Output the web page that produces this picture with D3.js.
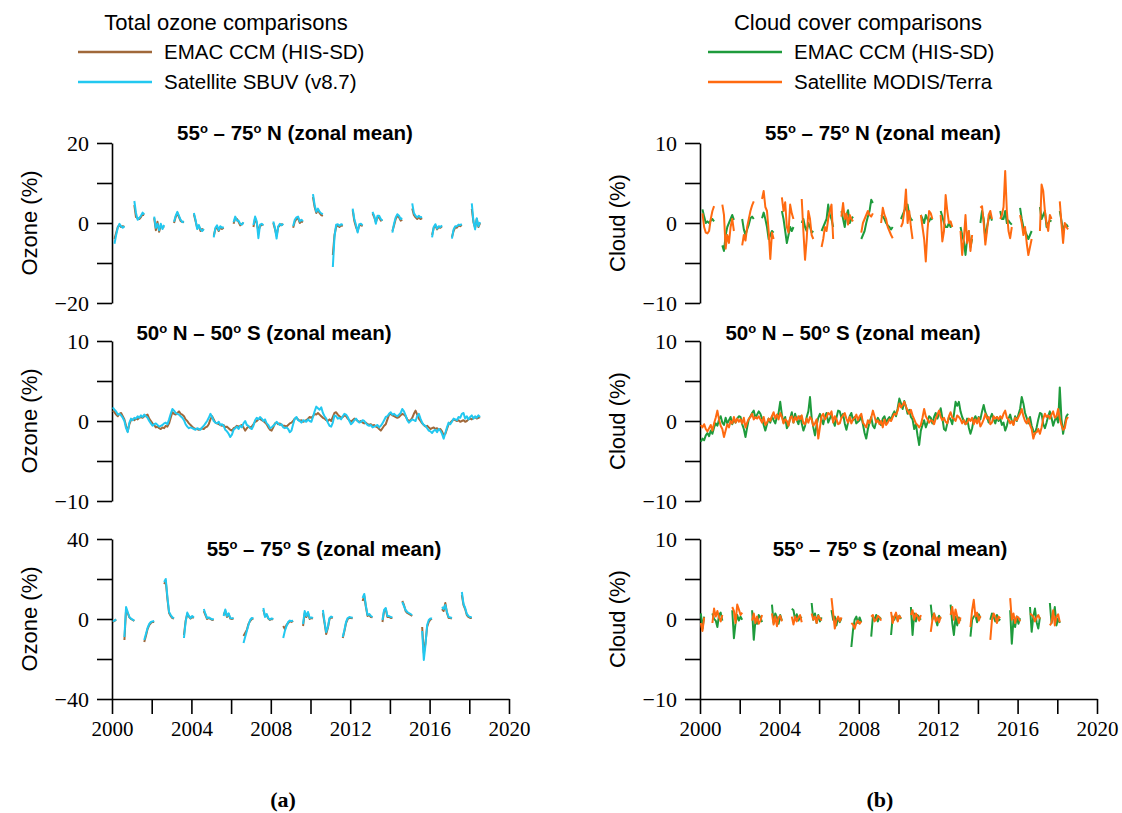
<!DOCTYPE html>
<html>
<head>
<meta charset="utf-8">
<script src="https://cdn.jsdelivr.net/npm/d3@7"></script>
<style>
  body { margin: 0; background: #fff; }
  svg text { fill: #000; }
</style>
</head>
<body>
<script>
// monthly values, Jan 2000 .. Jul 2018 (one row per year)
var ozTropEmac = [
  1.3,1.1,0.8,0.6,0.9,1.0,0.6,0.2,-0.6,-1.3,-0.4,0.1,
  0.2,0.1,0.3,0.2,0.4,0.5,0.4,0.6,0.7,0.8,0.3,0.0,
  -0.3,-0.5,-0.8,-0.7,-0.9,-1.0,-0.8,-0.9,-0.6,-0.7,-0.3,0.4,
  1.1,0.9,0.8,1.0,1.2,0.9,0.8,0.6,0.2,0.0,-0.3,-0.5,
  -0.7,-0.9,-1.0,-1.0,-1.1,-1.0,-0.9,-1.0,-0.8,-0.7,-0.4,0.2,
  0.6,0.2,-0.2,-0.3,-0.4,-0.5,-0.6,-0.5,-0.8,-0.7,-0.9,-1.1,
  -1.2,-0.9,-0.8,-0.6,-0.7,-0.6,-0.5,-0.8,-1.2,-0.9,-0.7,-0.8,
  -0.7,-0.4,-0.1,0.0,0.2,0.3,0.1,0.0,-0.2,-0.4,-0.8,-1.1,
  -1.2,-0.8,-0.3,-0.2,-0.4,-0.3,-0.5,-0.6,-0.6,-0.7,-0.5,-0.3,
  -0.2,0.0,0.3,0.4,0.2,0.0,0.1,-0.1,0.0,0.1,0.3,0.5,
  0.4,0.6,0.9,0.8,1.0,0.8,0.6,0.4,0.3,0.1,0.0,0.2,
  0.0,0.5,1.0,1.1,0.8,0.6,0.4,0.5,0.7,0.6,0.3,0.1,
  -0.1,0.1,0.3,0.2,0.0,-0.1,0.0,-0.2,-0.3,-0.2,-0.4,-0.5,
  -0.4,-0.6,-0.5,-0.7,-0.8,-1.0,-1.2,-0.9,-0.6,-0.4,0.2,0.8,
  0.9,0.7,0.6,0.5,0.4,0.5,0.7,0.9,0.8,0.6,0.2,0.0,
  0.1,0.4,0.9,1.3,0.8,0.3,0.0,-0.3,-0.5,-0.7,-0.6,-0.8,
  -1.0,-0.9,-0.8,-1.0,-0.9,-1.1,-1.0,-1.3,-1.8,-1.6,-1.0,-0.4,
  -0.2,0.0,0.2,0.1,0.0,0.1,-0.1,0.0,0.1,-0.1,0.0,0.2,
  0.3,0.2,0.4,0.5,0.3,0.4,0.5
];
var ozTropSbuv = [
  1.7,1.4,1.2,0.8,0.9,0.7,0.4,0.0,-0.9,-1.4,-0.2,0.3,
  0.1,0.4,0.3,0.6,0.4,0.7,0.5,0.8,0.6,0.4,0.0,-0.3,
  -0.6,-0.4,-0.3,-0.5,-0.7,-0.6,-0.5,-0.3,-0.2,-0.4,0.2,0.9,
  1.5,1.3,1.0,0.9,0.8,0.6,0.4,0.1,-0.4,-0.7,-0.9,-0.8,
  -0.9,-1.0,-1.1,-0.9,-1.0,-1.1,-0.8,-0.6,-0.3,0.0,0.4,0.9,
  0.5,0.0,-0.2,-0.3,-0.1,-0.5,-0.4,-0.6,-1.1,-1.3,-1.6,-2.0,
  -1.7,-1.1,-0.9,-0.7,-1.0,-0.6,-0.8,-0.3,0.0,-0.5,-0.6,-0.9,
  -1.0,-0.6,0.1,0.4,0.2,0.5,0.3,0.0,0.2,-0.3,-0.5,-0.9,
  -0.8,-0.6,-0.4,-0.1,-0.3,-0.5,-0.4,-0.8,-0.9,-0.8,-1.0,-1.4,
  -1.2,-0.4,0.3,0.5,0.1,0.0,-0.2,0.1,0.0,-0.1,0.2,0.0,
  -0.1,0.5,1.2,1.8,1.6,1.4,1.7,1.0,0.6,0.3,-0.2,-0.6,
  -0.7,-0.2,0.7,0.6,0.3,0.4,0.2,0.6,0.9,0.8,0.5,0.0,
  -0.4,-0.2,0.1,0.3,0.0,-0.2,-0.1,0.1,0.0,-0.3,-0.5,-0.6,
  -0.5,-0.8,-0.7,-0.6,-0.5,-0.8,-0.6,-0.3,0.1,0.5,0.6,0.9,
  1.1,0.8,0.9,0.7,0.6,0.8,1.0,1.5,1.2,0.7,0.1,-0.2,
  0.0,0.2,0.1,0.0,0.6,0.9,0.3,-0.2,-0.5,-0.6,-0.9,-1.2,
  -1.3,-1.5,-1.2,-1.1,-1.4,-1.0,-1.2,-1.6,-2.2,-1.5,-0.8,-0.2,
  -0.4,-0.1,0.3,0.2,0.1,0.5,0.4,0.9,1.0,0.3,0.6,0.2,
  0.5,0.7,0.3,0.6,0.4,0.7,0.5
];
var cldTropEmac = [
  -2.6,-2.2,-2.4,-1.8,-1.5,-1.9,-1.2,-1.6,-0.8,-0.3,-0.6,0.2,
  0.6,-0.2,-0.5,0.4,-0.3,0.1,0.5,-0.4,0.2,-0.2,0.3,0.6,
  0.5,-0.4,-1.0,-2.0,-0.8,0.2,0.6,1.0,1.3,0.4,0.8,1.2,
  0.9,0.3,-0.5,-1.2,-0.4,0.3,-0.2,0.6,0.1,-0.3,0.5,1.0,
  2.4,0.8,-0.2,0.5,-0.9,-0.5,0.3,1.1,-0.2,0.9,0.1,-0.4,
  0.6,-0.3,-1.2,-0.6,0.5,1.2,3.0,0.4,-0.8,-1.8,-0.5,0.4,
  0.9,0.2,-0.4,0.5,1.0,-0.2,0.3,0.8,0.0,-0.6,0.4,1.3,
  1.2,0.4,0.9,-0.3,-1.1,-0.2,0.6,1.0,0.1,0.5,-0.3,-0.1,
  0.1,0.6,-0.4,-1.5,-2.2,-1.0,-0.2,0.5,-0.6,-0.9,-0.1,0.4,
  0.0,-0.5,0.3,0.6,-0.2,0.2,0.5,0.1,0.8,1.2,0.6,1.6,
  2.8,2.2,1.5,2.5,1.8,0.9,1.4,0.5,0.2,-1.0,-0.4,-1.8,
  -3.0,-1.2,-0.5,0.1,-0.8,-0.2,0.6,0.4,-0.3,0.5,1.0,0.3,
  0.9,1.6,0.4,-1.0,-1.2,-0.3,0.5,0.2,-0.4,0.8,2.4,1.9,
  2.4,1.2,0.5,0.0,-0.4,0.3,-0.8,-1.6,-0.9,0.2,0.6,0.0,
  0.5,0.2,1.2,2.0,1.1,0.6,-0.2,0.4,0.9,0.2,-0.3,0.5,
  0.0,0.3,-0.5,-0.2,-1.2,-0.6,0.3,0.8,0.0,-0.4,0.6,0.0,
  0.8,1.5,3.0,2.2,1.0,0.4,-0.3,0.5,-0.6,-1.2,-1.6,-0.8,
  0.2,1.0,0.9,-0.4,-0.9,-0.2,0.6,1.2,0.4,-0.6,0.1,0.5,
  -0.2,4.2,0.3,-1.6,-0.4,0.6,0.9
];
var cldTropModis = [
  -0.5,-0.8,-0.4,-1.0,-1.3,-0.9,-0.5,-1.2,-0.3,0.4,1.3,0.2,
  -0.6,-1.0,-2.0,-1.2,-0.4,-0.8,0.0,-0.3,0.5,-0.2,0.3,-0.1,
  0.2,-0.3,0.4,-0.8,-0.2,0.3,0.5,0.9,0.2,0.5,0.3,0.6,
  0.2,-0.2,0.5,-0.5,-0.2,0.3,0.0,0.6,1.1,0.3,0.8,0.2,
  1.0,0.5,-0.3,0.2,0.0,-0.6,0.4,0.6,-0.2,0.5,0.1,0.6,
  0.2,0.7,-0.3,-0.4,0.3,-0.2,0.5,0.2,-0.6,-0.3,0.2,-2.2,
  -0.8,0.6,0.9,0.2,0.5,1.0,0.8,1.2,-0.2,0.6,0.2,-0.4,
  -0.3,0.4,0.7,1.0,0.3,-0.2,0.5,-0.3,0.2,0.4,0.8,0.1,
  0.6,0.9,-0.2,-0.5,-0.8,0.1,-0.3,0.4,1.3,0.6,-0.2,0.1,
  -0.4,0.0,-0.8,0.2,-0.5,-0.2,0.2,0.0,0.5,0.9,0.8,1.3,
  2.2,1.7,2.0,2.4,1.8,1.3,0.9,1.4,0.7,0.2,-0.3,-0.5,
  -0.8,-0.5,0.4,1.5,0.6,0.2,-0.2,0.1,0.0,-0.4,0.3,0.8,
  1.3,0.5,0.1,0.4,-0.1,-0.3,0.6,1.1,0.4,0.3,0.0,0.7,
  0.5,0.2,-0.3,0.1,-0.4,-0.2,0.3,0.0,0.4,-0.4,0.2,-0.3,
  0.4,-0.7,-0.3,0.2,0.9,0.3,0.5,-0.4,-0.2,0.6,0.3,0.5,
  0.2,0.6,0.3,0.9,1.3,0.4,0.2,-0.3,0.0,-0.5,0.4,0.1,
  0.5,0.9,1.5,0.6,0.0,-0.3,0.3,-0.5,-1.0,-2.2,-1.5,-1.4,
  -1.0,-1.6,-0.8,0.3,0.9,0.5,0.7,0.3,0.8,1.2,0.4,0.6,
  1.5,0.3,-0.5,-1.1,-0.9,0.2,0.5
];

// seasonal segments: NH seasons start in Feb of 2000+i, SH seasons start in Aug of 1999+i
var ozNHEmac = [
  [-4.0,-2.5,-1.0,-0.5,-1.0,-0.8,-1.0],[4.5,1.5,1.2,1.0,1.5,2.2,2.0],[1.2,-1.8,0.3,-2.2,-0.6,-1.2,-0.8],
  [0.0,1.5,2.5,1.5,0.5,0.3,0.2],[2.2,0.5,-1.2,-0.8,-2.0,-1.5,-1.8],[-3.2,-1.5,-1.0,-2.0,-1.0,-1.5,-1.2],
  [-0.2,1.2,1.0,0.3,-0.6,-0.2,0.0],[-1.0,1.2,0.0,-2.0,-0.8,-0.5,-0.4],[0.0,-1.5,-3.2,-1.0,-0.6,-0.3,-0.5],
  [-1.2,0.3,1.0,1.2,0.0,0.4,0.2],[6.5,4.0,2.5,3.3,2.5,2.0,1.8],[-8.0,-3.0,-1.0,-0.6,-1.0,-0.6,-0.8],
  [3.2,0.5,-1.0,-2.0,-0.6,-0.5,-0.8],[2.4,1.5,0.2,1.4,1.4,0.6,0.8],[-2.0,-0.6,1.0,1.8,1.4,0.6,0.8],
  [3.6,2.0,1.4,1.0,1.5,1.0,1.2],[-3.0,-1.2,-0.6,-1.6,-1.0,-1.2,-0.8],[-3.5,-2.0,-1.0,-1.2,-0.6,-0.8,-0.5],
  [3.5,0.2,-1.2,1.0,-1.0,0.0]
];
var ozNHSbuv = [
  [-5.2,-3.0,-1.2,-0.2,-0.8,-1.2,-0.8],[5.5,2.5,0.8,1.3,1.8,2.6,2.2],[1.6,-1.2,-0.2,-1.8,-0.2,-1.5,-0.5],
  [0.3,1.8,2.8,1.8,0.8,0.2,0.4],[2.5,0.8,-1.5,-0.5,-1.6,-2.0,-1.5],[-3.6,-1.2,-0.6,-1.8,-0.8,-1.2,-1.0],
  [0.2,1.6,0.6,0.6,-0.2,-0.4,0.2],[-0.5,1.6,0.4,-3.8,-0.4,-0.2,-0.6],[0.4,-1.2,-3.9,-0.8,-0.2,-0.6,-0.2],
  [-0.8,0.8,1.4,1.6,0.4,0.8,0.5],[7.2,4.5,2.8,3.6,2.8,2.4,2.2],[-11.0,-3.5,-0.4,-0.3,-0.7,-0.3,-0.5],
  [3.6,1.0,-0.5,-2.4,-0.3,-0.2,-0.6],[2.8,1.8,-0.2,1.8,1.8,1.0,0.6],[-2.4,-0.2,1.4,2.2,1.8,1.0,1.2],
  [4.9,2.5,1.8,1.4,1.8,1.4,1.5],[-3.6,-1.0,-0.3,-1.4,-0.8,-1.0,-0.6],[-3.9,-1.6,-0.8,-0.8,-0.4,-0.5,-0.3],
  [4.9,0.5,-1.6,1.2,-0.8,0.2]
];
var ozSHEmac = [
  [null,null,null,null,null,-1.5,-1.0,-0.3],[-10.5,4.5,3.0,0.8,0.0,-0.5,-1.0],[-11.5,-8.5,-5.0,-3.0,-2.0,-1.5,-1.5],
  [17.5,19.0,10.0,3.0,1.5,0.5,0.2],[-8.0,-1.0,2.5,1.2,0.2,1.0,0.6],[4.0,2.0,0.0,0.5,0.0,-0.5,-0.3],
  [2.0,4.0,1.0,2.5,0.2,0.0,0.3],[-8.5,-7.0,-5.5,-2.5,-1.0,0.0,0.2],[4.5,1.5,2.0,0.2,-0.5,0.0,-0.2],
  [-3.5,-5.0,-3.0,-2.0,-1.0,-1.5,-1.0],[-3.5,3.0,1.0,3.0,0.0,0.5,0.2],[3.0,-2.0,-7.5,-4.5,0.0,0.8,0.5],
  [-9.5,-6.0,-2.0,0.0,0.5,0.5,0.3],[9.0,11.5,6.0,1.5,2.0,1.0,0.8],[-1.5,4.0,5.0,1.0,1.0,0.5,0.5],
  [9.0,7.0,4.0,3.0,2.5,2.0,1.5],[-4.0,-17.0,-12.0,-4.0,-1.5,-0.2,0.0],[5.0,4.0,8.0,3.0,0.5,0.5,0.2],
  [12.0,7.0,5.0,2.0,1.0,0.5,0.5]
];
var ozSHSbuv = [
  [null,null,null,null,null,-1.2,-0.8,-0.2],[-9.0,6.0,3.5,1.0,0.2,-0.3,-0.8],[-10.5,-7.5,-4.5,-2.5,-1.5,-1.2,-1.0],
  [18.5,20.0,11.0,3.5,2.0,0.8,0.4],[-9.5,-1.5,3.2,1.5,0.5,1.5,0.8],[5.0,2.5,0.5,0.8,0.3,-0.2,0.0],
  [1.5,4.8,1.5,2.8,0.5,0.3,0.5],[-12.0,-9.0,-6.0,-3.0,-0.5,0.5,0.4],[5.5,1.0,2.5,0.5,-0.2,0.3,0.0],
  [-9.5,-6.0,-3.5,-1.5,-0.8,-1.0,-0.8],[-2.5,4.0,1.5,3.5,0.5,0.8,0.5],[4.5,-1.5,-6.5,-4.0,0.5,1.2,0.8],
  [-9.0,-5.5,-1.5,0.5,1.0,0.8,0.6],[10.5,12.5,6.5,2.0,2.5,1.5,1.0],[-0.5,4.5,5.5,1.5,1.5,1.0,0.8],
  [8.5,6.5,4.5,3.5,3.0,2.5,2.0],[-6.0,-20.5,-13.0,-3.0,-0.5,0.3,0.2],[6.0,5.0,7.0,3.5,1.0,0.8,0.5],
  [13.5,7.5,5.5,2.5,1.5,1.0,0.8]
];
var cldNHEmac = [
  [1.7,0.8,0.0,0.2,0.0,0.3,0.5,0.2],[-2.8,-3.5,-1.5,-0.5,0.0,0.5,1.0,0.4],[0.5,-0.8,-1.5,-0.8,-0.2,0.6,0.8,0.5],
  [0.6,1.3,0.5,-0.5,-2.0,-1.5,-1.0,-1.2],[1.5,0.5,-1.0,-2.5,-1.5,-0.5,-1.0,-0.5],[0.0,0.5,-0.5,-1.0,0.0,-0.5,-1.2,-1.0],
  [-1.0,-0.5,0.0,0.5,2.3,1.0,0.5,-0.5],[1.5,0.5,-0.5,1.0,1.6,0.0,0.5,0.8],[-2.0,-1.5,-1.0,0.0,0.8,1.5,2.9,2.5],
  [1.0,0.8,0.5,0.0,-0.3,-0.5,-0.8,-0.5],[0.5,1.0,1.5,2.0,2.3,1.0,0.5,0.3],[1.0,0.5,0.0,1.0,0.5,0.2,0.6,0.4],
  [1.5,0.8,0.0,-0.5,-0.5,0.0,-0.5,-0.3],[-0.5,-1.5,-2.3,-4.0,-2.0,-1.0,-3.0,-2.0],[0.0,1.5,0.5,-2.0,-0.5,0.5,1.0,0.3],
  [1.5,0.5,0.5,1.5,0.0,0.3,0.0,-0.2],[1.9,0.5,-0.5,-1.0,-1.5,-2.0,-1.5,-1.0],[2.0,0.5,1.0,1.5,-0.5,0.0,0.3,0.2],
  [1.5,0.3,-1.0,-0.3,-0.2,-0.5]
];
var cldNHModis = [
  [1.2,-0.5,-1.2,-1.3,-1.0,0.5,1.5,2.1],[2.3,1.0,-3.2,-1.5,-2.5,-0.5,0.5,-1.0],[-2.8,-1.5,-2.2,-0.5,0.5,1.5,2.2,2.7],
  [3.0,4.0,2.0,1.5,-1.0,-4.5,-1.2,-2.0],[3.2,1.5,2.6,-0.5,-1.2,2.3,1.2,0.5],[3.0,-1.0,-4.6,-2.0,1.5,0.5,-1.5,-2.0],
  [-3.0,-2.0,-0.5,-1.0,0.5,1.5,2.3,-2.0],[0.8,2.5,0.5,1.2,-0.2,1.0,0.5,0.2],[-1.2,0.0,0.5,1.0,1.5,1.0,0.8,1.2],
  [0.0,1.9,1.0,0.5,-0.5,-1.0,-1.5,-1.9],[-0.5,0.0,1.5,4.2,0.0,1.5,-0.5,-2.0],[1.0,-0.5,-2.0,-4.8,-1.0,1.5,1.2,0.5],
  [1.0,-2.3,-1.0,3.5,1.5,0.0,0.2,-0.5],[-1.0,-4.0,-2.0,1.0,-2.5,-1.0,-3.5,-1.5],[1.9,2.1,0.0,-2.7,-1.0,1.0,1.5,0.5],
  [0.5,1.0,2.0,6.5,1.5,-1.0,-1.9,-0.5],[1.0,0.0,-1.5,-0.5,-2.5,-4.0,-3.0,-2.0],[-1.0,4.8,4.0,1.5,0.0,-1.0,1.0,0.5],
  [2.7,0.0,-2.5,0.0,-0.5,-0.8]
];
var cldSHEmac = [
  [null,null,null,null,null,0.7,-1.2,0.3],[0.7,0.0,-0.2,-1.0,0.5,0.8,-0.2],[1.1,-2.4,-0.5,0.5,-0.2,0.3,-0.1],
  [1.1,-2.6,-0.2,-0.6,0.5,0.2,-0.4],[1.8,-0.5,0.7,0.2,-0.6,0.5,-0.2],[1.3,1.1,-0.1,0.6,-0.2,0.3,0.1],
  [2.0,-0.1,0.7,-0.5,0.5,-0.3,0.2],[1.1,-0.1,0.3,-0.8,0.2,-0.4,0.1],[-3.5,-1.4,-0.1,0.3,-0.5,0.2,-0.4],
  [-2.2,0.3,-0.1,0.5,-0.3,0.2,0.0],[-2.0,0.3,-0.1,0.6,-0.2,0.4,0.0],[1.5,-2.0,0.7,-0.3,0.5,0.2,-0.1],
  [1.8,-0.1,0.7,-0.1,-0.8,0.4,0.0],[1.8,-0.5,-2.0,0.3,-0.8,0.2,-0.2],[-2.2,-0.1,0.3,0.5,-0.4,0.6,0.1],
  [-0.1,0.7,0.3,-0.3,0.5,-0.2,0.0],[1.1,-3.1,-0.1,-1.0,0.3,-0.6,0.1],[1.5,-1.6,0.3,1.3,-0.4,-1.2,0.2],
  [2.0,-0.5,0.3,1.5,-0.8,0.1,-0.5]
];
var cldSHModis = [
  [null,null,null,null,null,-0.5,-1.5,0.2],[-0.5,1.3,0.3,1.0,0.2,-0.3,0.5],[1.5,1.0,-0.5,1.8,1.2,0.5,0.8],
  [-0.2,0.7,-0.5,0.3,-0.6,-0.2,0.5],[0.7,-0.7,0.3,-0.9,0.2,0.4,-0.3],[0.3,-0.7,0.3,-0.3,0.2,0.5,-0.4],
  [0.7,-0.1,0.3,-0.5,0.4,0.1,-0.2],[2.6,0.7,-1.2,-0.1,0.3,-0.3,0.2],[-0.5,-0.7,-1.2,-0.5,-0.2,-0.6,-0.3],
  [0.3,0.5,-0.3,-0.1,0.4,0.2,-0.2],[0.9,-0.5,0.3,0.8,-0.3,0.4,0.1],[0.5,1.1,-0.1,0.7,0.3,-0.2,0.5],
  [-1.6,-0.1,0.7,-0.3,0.2,-0.4,0.3],[0.5,1.5,-0.1,1.2,0.3,-0.5,0.2],[-1.0,1.1,2.4,0.3,0.8,-0.2,0.4],
  [-2.6,-0.1,0.7,0.3,-0.5,0.3,0.1],[2.6,-0.1,0.7,-0.5,0.3,0.2,-0.3],[0.7,0.5,0.3,-0.3,0.2,0.5,0.0],
  [-0.8,-0.5,1.1,-0.8,0.3,0.6,-0.4]
];

var xTicks = d3.range(2000, 2021, 2);
var xLabels = [2000, 2004, 2008, 2012, 2016, 2020];

var colBrown = "#a0683a", colBlue = "#22c8f0", colGreen = "#1e9b3c", colOrange = "#ff6a10";

function monthly(vals) {
  return vals.map(function(v, i) { return {x: 2000 + (i + 0.5) / 12, v: v}; });
}
function seasonal(segs, firstYear, startMonth) {
  var pts = [];
  segs.forEach(function(seg, i) {
    seg.forEach(function(v, j) {
      pts.push({x: firstYear + i + (startMonth - 1 + j + 0.5) / 12, v: v});
    });
    pts.push({x: null, v: null});
  });
  return pts;
}

var svg = d3.select("body").append("svg").attr("width", 1122).attr("height", 813);

var panels = [
  {x0: 112, y0: 143, dom: [-20, 20], ticks: [-20,-10,0,10,20], labels: [-20,0,20], ytitle: "Ozone (%)",
   title: ["55", "o", " \u2013 75", "o", " N (zonal mean)"], tx: 295, ty: 140,
   series: [[seasonal(ozNHEmac, 2000, 2), colBrown], [seasonal(ozNHSbuv, 2000, 2), colBlue]]},
  {x0: 112, y0: 341, dom: [-10, 10], ticks: [-10,-5,0,5,10], labels: [-10,0,10], ytitle: "Ozone (%)",
   title: ["50", "o", " N \u2013 50", "o", " S (zonal mean)"], tx: 264, ty: 340,
   series: [[monthly(ozTropEmac), colBrown], [monthly(ozTropSbuv), colBlue]]},
  {x0: 112, y0: 539, dom: [-40, 40], ticks: [-40,-20,0,20,40], labels: [-40,0,40], ytitle: "Ozone (%)",
   title: ["55", "o", " \u2013 75", "o", " S (zonal mean)"], tx: 324, ty: 556, xaxis: true,
   series: [[seasonal(ozSHEmac, 1999, 8), colBrown], [seasonal(ozSHSbuv, 1999, 8), colBlue]]},
  {x0: 700, y0: 143, dom: [-10, 10], ticks: [-10,-5,0,5,10], labels: [-10,0,10], ytitle: "Cloud (%)",
   title: ["55", "o", " \u2013 75", "o", " N (zonal mean)"], tx: 883, ty: 140,
   series: [[seasonal(cldNHEmac, 2000, 2), colGreen], [seasonal(cldNHModis, 2000, 2), colOrange]]},
  {x0: 700, y0: 341, dom: [-10, 10], ticks: [-10,-5,0,5,10], labels: [-10,0,10], ytitle: "Cloud (%)",
   title: ["50", "o", " N \u2013 50", "o", " S (zonal mean)"], tx: 853, ty: 340,
   series: [[monthly(cldTropEmac), colGreen], [monthly(cldTropModis), colOrange]]},
  {x0: 700, y0: 539, dom: [-10, 10], ticks: [-10,-5,0,5,10], labels: [-10,0,10], ytitle: "Cloud (%)",
   title: ["55", "o", " \u2013 75", "o", " S (zonal mean)"], tx: 890, ty: 556, xaxis: true,
   series: [[seasonal(cldSHEmac, 1999, 8), colGreen], [seasonal(cldSHModis, 1999, 8), colOrange]]}
];

var pw = 397, ph = 160;
var fmt = function(d) { return d < 0 ? "\u2212" + Math.abs(d) : d; };

panels.forEach(function(p) {
  var x = d3.scaleLinear().domain([2000, 2020]).range([p.x0, p.x0 + pw]);
  var y = d3.scaleLinear().domain(p.dom).range([p.y0 + ph, p.y0]);
  var g = svg.append("g");

  var yAxis = d3.axisLeft(y).tickValues(p.ticks).tickSize(15).tickSizeOuter(0)
    .tickFormat(function(d) { return p.labels.indexOf(d) >= 0 ? fmt(d) : ""; });
  var ya = g.append("g").attr("transform", "translate(" + p.x0 + ",0)").call(yAxis);
  ya.selectAll("text").attr("font-family", "Liberation Serif, serif").attr("font-size", 22).attr("dx", -5);

  if (p.xaxis) {
    var xAxis = d3.axisBottom(x).tickValues(xTicks).tickSize(15).tickSizeOuter(0)
      .tickFormat(function(d) { return xLabels.indexOf(d) >= 0 ? d : ""; });
    var xa = g.append("g").attr("transform", "translate(0," + (p.y0 + ph) + ")").call(xAxis);
    xa.selectAll("text").attr("font-family", "Liberation Serif, serif").attr("font-size", 21).attr("dy", "0.9em");
  }
  g.selectAll(".domain, .tick line").attr("stroke", "#000").attr("stroke-width", 1.6);

  g.append("text")
    .attr("transform", "translate(" + (p.x0 - 75) + "," + (p.y0 + ph / 2) + ") rotate(-90)")
    .attr("text-anchor", "middle").attr("font-family", "Liberation Sans, Arial, sans-serif")
    .attr("font-size", 22).text(p.ytitle);

  var t = g.append("text").attr("x", p.tx).attr("y", p.ty).attr("text-anchor", "middle")
    .attr("font-family", "Liberation Sans, Arial, sans-serif").attr("font-weight", "bold").attr("font-size", 20.5);
  p.title.forEach(function(s, i) {
    if (s === "o") {
      t.append("tspan").attr("font-size", 13).attr("dy", -7).text(s);
    } else {
      t.append("tspan").attr("dy", i > 0 ? 7 : 0).text(s);
    }
  });

  var line = d3.line()
    .defined(function(d) { return d.v !== null && d.x !== null; })
    .x(function(d) { return x(d.x); })
    .y(function(d) { return y(d.v); });
  p.series.forEach(function(s) {
    g.append("path").datum(s[0]).attr("fill", "none").attr("stroke", s[1])
      .attr("stroke-width", 2).attr("stroke-linejoin", "round").attr("d", line);
  });
});

// legends
function legend(cx, title, lx, items) {
  var g = svg.append("g").attr("font-family", "Liberation Sans, Arial, sans-serif").attr("font-size", 20.5);
  g.append("text").attr("x", cx).attr("y", 30).attr("text-anchor", "middle").attr("font-size", 22).text(title);
  items.forEach(function(it, i) {
    var yy = 52 + i * 30;
    g.append("line").attr("x1", lx).attr("x2", lx + 74).attr("y1", yy).attr("y2", yy)
      .attr("stroke", it[1]).attr("stroke-width", 2.5);
    g.append("text").attr("x", lx + 86).attr("y", yy + 7).text(it[0]);
  });
}
legend(226, "Total ozone comparisons", 78, [["EMAC CCM (HIS-SD)", colBrown], ["Satellite SBUV (v8.7)", colBlue]]);
legend(858, "Cloud cover comparisons", 708, [["EMAC CCM (HIS-SD)", colGreen], ["Satellite MODIS/Terra", colOrange]]);

svg.append("text").attr("x", 283).attr("y", 807).attr("text-anchor", "middle")
  .attr("font-family", "Liberation Serif, serif").attr("font-weight", "bold").attr("font-size", 22).text("(a)");
svg.append("text").attr("x", 880).attr("y", 807).attr("text-anchor", "middle")
  .attr("font-family", "Liberation Serif, serif").attr("font-weight", "bold").attr("font-size", 22).text("(b)");
</script>
</body>
</html>
